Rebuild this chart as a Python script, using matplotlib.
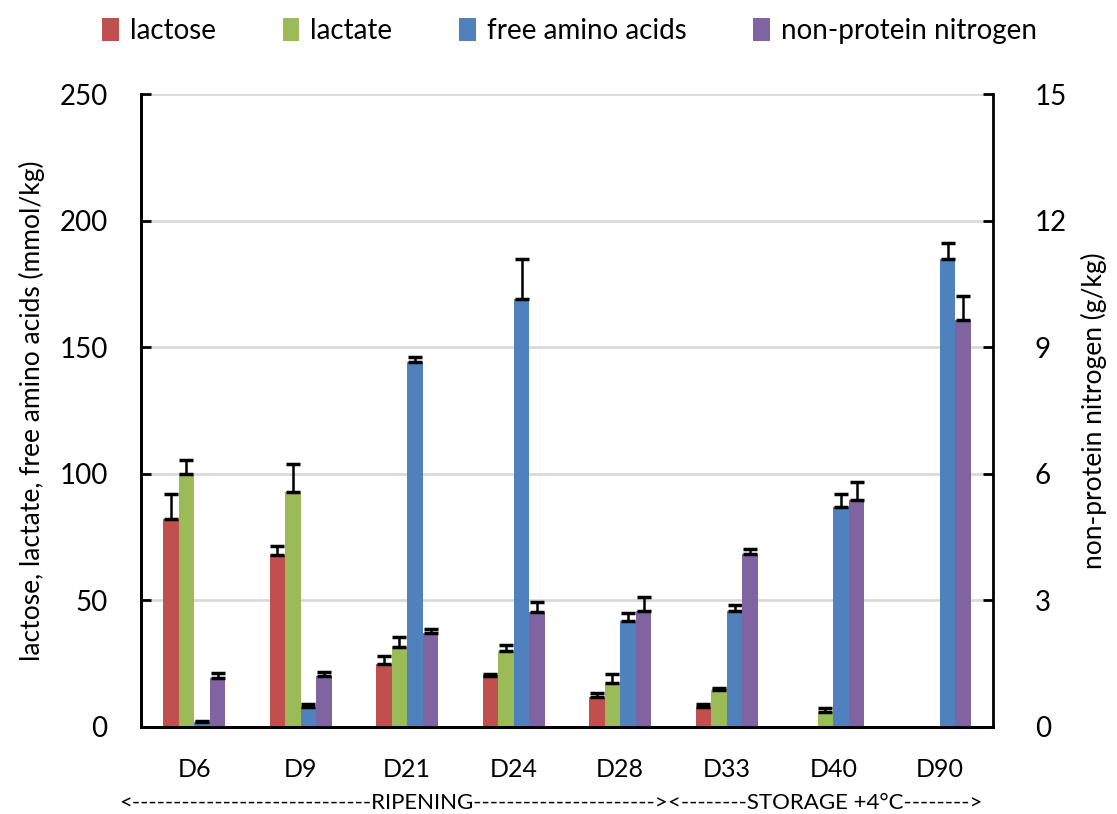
import numpy as np
import matplotlib
matplotlib.use('Agg')
import matplotlib.pyplot as plt

days = ['D6', 'D9', 'D21', 'D24', 'D28', 'D33', 'D40', 'D90']
lactose = [82, 68, 25, 20, 12, 8, np.nan, np.nan]
lactose_err = [10, 3.5, 3, 1, 1.5, 1, np.nan, np.nan]
lactate = [100, 93, 31.5, 30, 17.5, 14.5, 6, np.nan]
lactate_err = [5.5, 11, 4, 2.5, 3.5, 1, 1.5, np.nan]
amino = [2, 8, 144, 169, 42, 46, 87, 185]
amino_err = [0.5, 1, 2, 16, 3, 2, 5, 6]
npn = [1.15, 1.2, 2.22, 2.72, 2.75, 4.1, 5.38, 9.65]   # g/kg, right axis
npn_err = [0.12, 0.1, 0.1, 0.24, 0.33, 0.12, 0.42, 0.57]

colors = ['#c0504d', '#9bbb59', '#4f81bd', '#8064a2']
names = ['lactose', 'lactate', 'free amino acids', 'non-protein nitrogen']

plt.rcParams['font.family'] = ['Lato', 'DejaVu Sans']

fig = plt.figure(figsize=(11.17, 8.14), dpi=100)
ax = fig.add_axes([0.1262, 0.1069, 0.7628, 0.7776])
ax2 = ax.twinx()

x = np.arange(len(days))
w = 0.146
series = [(ax, lactose, lactose_err), (ax, lactate, lactate_err),
          (ax, amino, amino_err), (ax2, npn, npn_err)]
handles = []
for i, (a, vals, err) in enumerate(series):
    pos = x + (i - 1.5) * w
    vals = np.array(vals, dtype=float)
    err = np.array(err, dtype=float)
    b = a.bar(pos, vals, w, color=colors[i], zorder=2)
    a.errorbar(pos, vals, yerr=[np.zeros_like(err), err], fmt='none',
               ecolor='black', elinewidth=1.8, capsize=5, capthick=2.5, zorder=3)
    handles.append(b)

ax.set_xlim(-0.5, len(days) - 0.5)
ax.set_ylim(0, 250)
ax.set_yticks(np.arange(0, 251, 50))
ax2.set_ylim(0, 15)
ax2.set_yticks(np.arange(0, 16, 3))

ax.yaxis.grid(True, color='#d9d9d9', lw=2)
ax.set_axisbelow(True)

for a in (ax, ax2):
    a.spines['top'].set_visible(False)
    for s in ('left', 'right', 'bottom'):
        a.spines[s].set_linewidth(2)
ax.spines['right'].set_visible(False)

ax.tick_params(axis='y', direction='in', length=7, width=2, labelsize=20, pad=24)
ax2.tick_params(axis='y', direction='in', length=7, width=2, labelsize=20, pad=30)
ax.tick_params(axis='x', length=0, labelsize=18, pad=22)
ax.set_xticks(x)
ax.set_xticklabels(days)

ax.set_ylabel('lactose, lactate, free amino acids (mmol/kg)', fontsize=19, labelpad=10)
ax2.set_ylabel('non-protein nitrogen (g/kg)', fontsize=19, labelpad=10)

tr = ax.get_xaxis_transform()
ax.text(4.45, -0.12, '<' + '-' * 29 + 'RIPENING' + '-' * 22 + '>', transform=tr,
        ha='right', va='center', fontsize=16)
ax.text(4.45, -0.12, '<' + '-' * 8 + 'STORAGE +4°C' + '-' * 8 + '>', transform=tr,
        ha='left', va='center', fontsize=16)

fig.legend(handles, names, loc='center', bbox_to_anchor=(0.51, 0.962), ncol=4,
           frameon=False, fontsize=20, handlelength=0.6, handleheight=0.9,
           handletextpad=0.4, columnspacing=2.4)

fig.savefig('out.png', dpi=100)
